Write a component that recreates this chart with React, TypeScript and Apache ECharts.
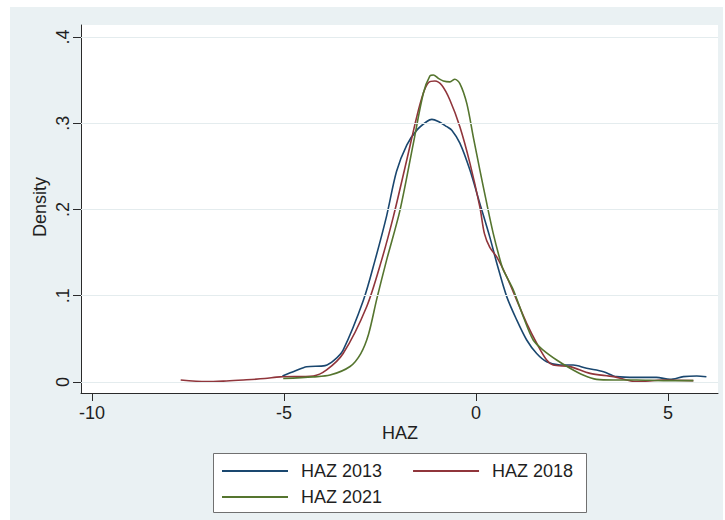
import React, { useEffect, useRef } from "react";
import * as echarts from "echarts";

// ---- Data ----
const haz2013X = [-5.04, -4.7, -4.41, -3.93, -3.7, -3.46, -2.93, -2.63, -2.33, -2.07, -1.8, -1.54, -1.28, -1.15, -0.98, -0.76, -0.63, -0.42, -0.16, 0.1, 0.36, 0.54, 0.8, 1.06, 1.32, 1.58, 1.84, 2.19, 2.53, 2.88, 3.32, 3.66, 4.18, 4.7, 5.05, 5.4, 5.75, 6.0];
const haz2013Y = [0.007, 0.013, 0.0177, 0.019, 0.025, 0.037, 0.095, 0.141, 0.192, 0.244, 0.275, 0.292, 0.302, 0.3045, 0.302, 0.296, 0.292, 0.277, 0.246, 0.207, 0.168, 0.138, 0.099, 0.072, 0.0487, 0.033, 0.0235, 0.0197, 0.0197, 0.0159, 0.012, 0.0062, 0.0054, 0.0054, 0.003, 0.0062, 0.007, 0.006];

const haz2018X = [-7.69, -7.02, -6.5, -6.06, -5.5, -5.1, -4.24, -3.89, -3.46, -2.85, -2.46, -2.15, -1.8, -1.54, -1.37, -1.24, -1.07, -0.89, -0.68, -0.42, -0.16, 0.1, 0.22, 0.36, 0.54, 0.8, 1.06, 1.32, 1.58, 1.84, 2.01, 2.45, 2.97, 3.58, 4.18, 4.88, 5.66];
const haz2018Y = [0.0023, 0.0004, 0.0012, 0.0023, 0.004, 0.006, 0.007, 0.014, 0.033, 0.087, 0.141, 0.192, 0.258, 0.308, 0.335, 0.347, 0.349, 0.344, 0.327, 0.296, 0.254, 0.203, 0.172, 0.156, 0.145, 0.122, 0.095, 0.068, 0.045, 0.0255, 0.0197, 0.0178, 0.01, 0.0062, 0.0004, 0.0023, 0.0016];

const haz2021X = [-5.02, -4.24, -3.8, -3.28, -3.0, -2.8, -2.58, -2.33, -1.98, -1.63, -1.37, -1.2, -1.11, -0.98, -0.85, -0.68, -0.55, -0.42, -0.24, -0.07, 0.1, 0.28, 0.45, 0.63, 0.71, 0.97, 1.23, 1.49, 1.75, 2.1, 2.45, 2.79, 3.14, 3.58, 4.18, 4.88, 5.66];
const haz2021Y = [0.004, 0.006, 0.008, 0.018, 0.033, 0.055, 0.097, 0.141, 0.199, 0.277, 0.335, 0.355, 0.356, 0.352, 0.349, 0.348, 0.351, 0.346, 0.323, 0.284, 0.246, 0.207, 0.172, 0.141, 0.13, 0.107, 0.076, 0.0487, 0.037, 0.0255, 0.0159, 0.008, 0.003, 0.0023, 0.0023, 0.0016, 0.0016];

const seriesNames = ["HAZ 2013", "HAZ 2018", "HAZ 2021"];
const xTicks = [-10, -5, 0, 5];
const yTicks = [0, 0.1, 0.2, 0.3, 0.4];
const gridYValues = [0, 0.1, 0.2, 0.3, 0.4];

const FONT = "'Liberation Sans', Arial, Helvetica, sans-serif";
const TXT = "#1f1f1f";

const zip = (xs: number[], ys: number[]) => xs.map((x, i) => [x, ys[i]]);

export default function App() {
  const ref = useRef<HTMLDivElement>(null);

  useEffect(() => {
    if (!ref.current) return;
    const chart = echarts.init(ref.current, null, { renderer: "svg" });
    const colors = ["#1a476f", "#90353b", "#55752f"];
    const datas = [zip(haz2013X, haz2013Y), zip(haz2018X, haz2018Y), zip(haz2021X, haz2021Y)];

    const legendBase = {
      orient: "horizontal",
      icon: "rect",
      itemWidth: 66,
      itemHeight: 2,
      itemGap: 31,
      padding: 0,
      selectedMode: false,
      z: 10,
      textStyle: { fontSize: 18, color: TXT, fontFamily: FONT, lineHeight: 18, padding: [0, 0, 0, 8] },
    };

    chart.setOption({
      animation: false,
      textStyle: { fontFamily: FONT },
      grid: {
        left: 81,
        right: 7,
        top: 25,
        bottom: 127,
        show: true,
        backgroundColor: "#ffffff",
        borderWidth: 0,
      },
      xAxis: {
        type: "value",
        min: -10.286,
        max: 6.302,
        splitLine: { show: false },
        axisLine: { show: true, onZero: false, lineStyle: { color: "#2a2a2a", width: 1 } },
        axisTick: { show: true, length: 8, customValues: xTicks, lineStyle: { color: "#2a2a2a" } },
        axisLabel: {
          customValues: xTicks,
          fontSize: 18,
          color: TXT,
          margin: 11,
          fontFamily: FONT,
          formatter: (v: number) => String(v),
        },
      },
      yAxis: {
        type: "value",
        min: -0.01275,
        max: 0.4139,
        splitLine: { show: false },
        axisLine: { show: true, onZero: false, lineStyle: { color: "#2a2a2a", width: 1 } },
        axisTick: { show: true, length: 8, customValues: yTicks, lineStyle: { color: "#2a2a2a" } },
        axisLabel: {
          customValues: yTicks,
          rotate: 90,
          fontSize: 18,
          color: TXT,
          margin: 9,
          fontFamily: FONT,
          formatter: (v: number) => (Math.abs(v) < 1e-9 ? "0" : v.toFixed(1).replace(/^0\./, ".")),
        },
      },
      legend: [
        { ...legendBase, data: [seriesNames[0], seriesNames[1]], left: 222, top: 462 },
        { ...legendBase, data: [seriesNames[2]], left: 222, top: 488 },
      ],
      graphic: [
        {
          type: "rect",
          z: 1,
          shape: { x: 213.5, y: 453.5, width: 373, height: 59 },
          style: { fill: "#ffffff", stroke: "#707070", lineWidth: 1 },
        },
        {
          type: "text",
          z: 5,
          x: 400,
          y: 433,
          style: {
            text: "HAZ",
            fontSize: 18,
            fontFamily: FONT,
            fill: TXT,
            align: "center",
            verticalAlign: "middle",
            textAlign: "center",
            textVerticalAlign: "middle",
          },
        },
        {
          type: "text",
          z: 5,
          x: 40,
          y: 207,
          rotation: Math.PI / 2,
          style: {
            text: "Density",
            fontSize: 18,
            fontFamily: FONT,
            fill: TXT,
            align: "center",
            verticalAlign: "middle",
            textAlign: "center",
            textVerticalAlign: "middle",
          },
        },
      ],
      series: [
        {
          name: "grid",
          type: "line",
          data: [],
          silent: true,
          markLine: {
            silent: true,
            symbol: ["none", "none"],
            label: { show: false },
            lineStyle: { color: "#e4ecee", type: "solid", width: 1 },
            data: gridYValues.map((v) => ({ yAxis: v })),
          },
        },
        ...seriesNames.map((name, i) => ({
          name,
          type: "line",
          data: datas[i],
          showSymbol: false,
          symbol: "none",
          smooth: 0.3,
          color: colors[i],
          lineStyle: { color: colors[i], width: 1.6 },
          itemStyle: { color: colors[i] },
        })),
      ],
    });

    return () => chart.dispose();
  }, []);

  return (
    <div style={{ position: "fixed", left: 0, top: 0, width: 725, height: 520, background: "#ffffff" }}>
      <div style={{ position: "absolute", left: 10, top: 7, width: 713, height: 513, background: "#eaf1f3" }} />
      <div ref={ref} style={{ position: "absolute", left: 0, top: 0, width: 725, height: 520 }} />
    </div>
  );
}
